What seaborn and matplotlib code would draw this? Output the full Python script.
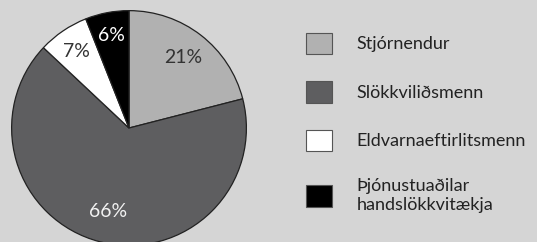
import numpy as np
import matplotlib
matplotlib.use("Agg")
import matplotlib.pyplot as plt
from matplotlib.patches import Patch
import seaborn as sns

# data
labels = ["Stjórnendur", "Slökkviliðsmenn", "Eldvarnaeftirlitsmenn",
          "Þjónustuaðilar\nhandslökkvitækja"]
shares = [21, 66, 7, 6]
colors = ["#b1b1b1", "#5e5e60", "#ffffff", "#000000"]
text_colors = ["#333333", "#f2f2f2", "#333333", "#ffffff"]
label_dist = [0.76, 0.73, 0.79, 0.80]

bg = "#d5d5d5"
sns.set_style("white")
plt.rcParams["font.family"] = ["Lato", "DejaVu Sans"]

fig = plt.figure(figsize=(5.37, 2.42), dpi=100, facecolor=bg)

# pie axes (slightly clipped at bottom as in reference)
ax = fig.add_axes([0.0205, -0.0165, 0.4395, 0.975])
ax.set_facecolor(bg)
wedges, _ = ax.pie(shares, colors=colors, startangle=90, counterclock=False,
                   wedgeprops=dict(edgecolor="#222222", linewidth=0.9))
ax.set_xlim(-1.005, 1.005)
ax.set_ylim(-1.005, 1.005)
ax.set_aspect("equal")
ax.axis("off")

for w, val, tc, d in zip(wedges, shares, text_colors, label_dist):
    ang = np.deg2rad((w.theta1 + w.theta2) / 2)
    ax.text(d * np.cos(ang), d * np.sin(ang), f"{val}%", ha="center",
            va="center", color=tc, fontsize=14)

handles = [Patch(facecolor=c, edgecolor="#555555", linewidth=0.8) for c in colors]
leg = fig.legend(handles, labels, loc="upper left", bbox_to_anchor=(0.556, 0.895),
                 frameon=False, fontsize=13, handlelength=1.45, handleheight=1.45,
                 handletextpad=1.35, labelspacing=1.5, borderaxespad=0)
for t in leg.get_texts():
    t.set_color("#222222")

fig.savefig("out.png", dpi=100, facecolor=bg)
